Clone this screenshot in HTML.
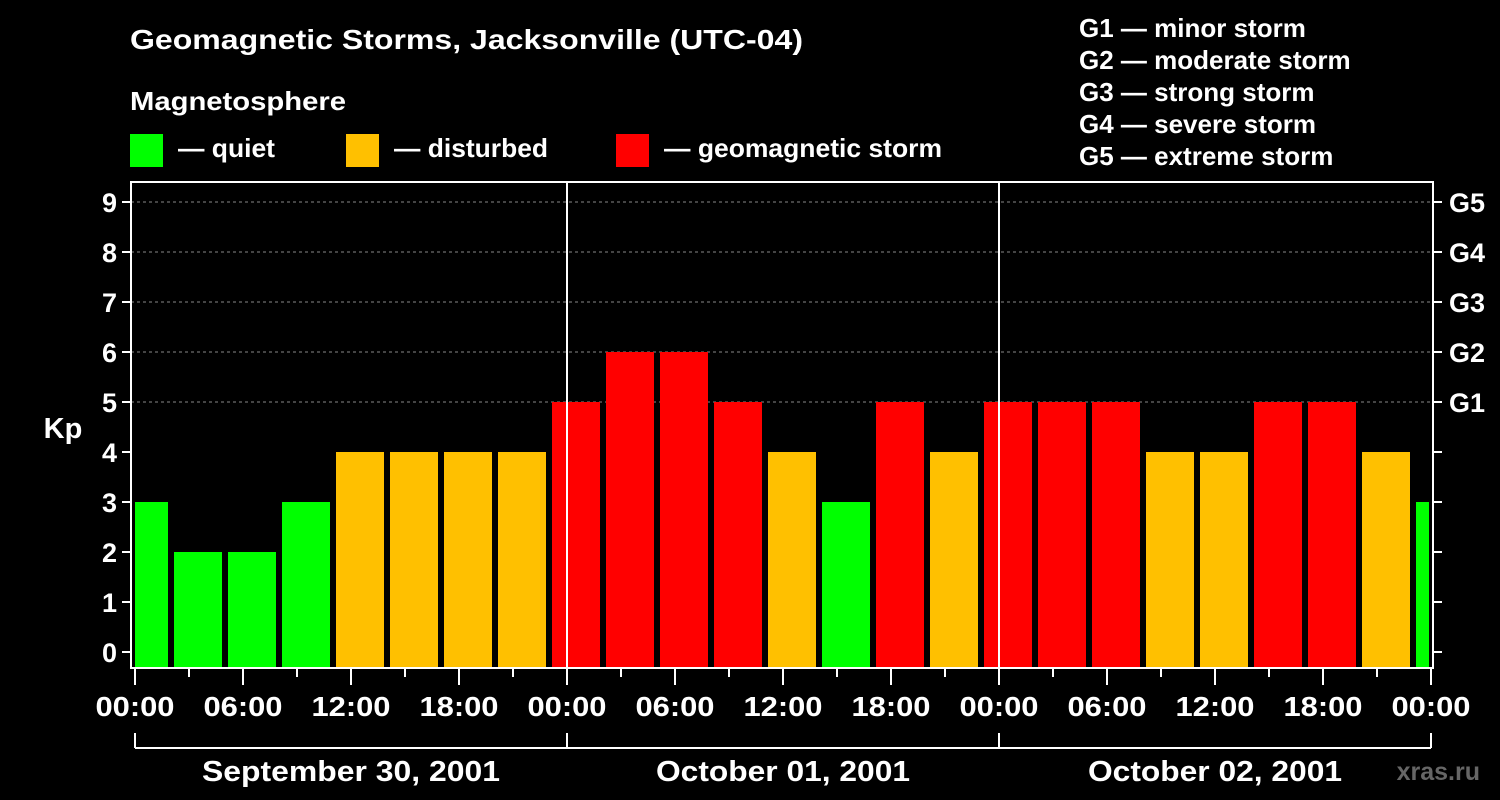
<!DOCTYPE html>
<html><head><meta charset="utf-8"><style>
body{margin:0;background:#000;width:1500px;height:800px;overflow:hidden}
svg{display:block;font-family:"Liberation Sans",Arial,sans-serif;font-weight:bold}
</style></head><body>
<svg id="c" width="1500" height="800" viewBox="0 0 1500 800">
<text x="130" y="49" fill="#fff" font-size="28" textLength="673" lengthAdjust="spacingAndGlyphs">Geomagnetic Storms, Jacksonville (UTC-04)</text>
<text x="130" y="110" fill="#fff" font-size="26" textLength="216" lengthAdjust="spacingAndGlyphs">Magnetosphere</text>
<rect x="130" y="134" width="33" height="33" fill="#00ff00"/>
<text x="178" y="157" fill="#fff" font-size="26" textLength="97" lengthAdjust="spacingAndGlyphs">— quiet</text>
<rect x="346" y="134" width="33" height="33" fill="#ffc000"/>
<text x="394" y="157" fill="#fff" font-size="26" textLength="154" lengthAdjust="spacingAndGlyphs">— disturbed</text>
<rect x="616" y="134" width="33" height="33" fill="#ff0000"/>
<text x="664" y="157" fill="#fff" font-size="26" textLength="278" lengthAdjust="spacingAndGlyphs">— geomagnetic storm</text>
<g fill="#fff" font-size="26">
<text x="1079" y="37">G1 — minor storm</text>
<text x="1079" y="69">G2 — moderate storm</text>
<text x="1079" y="101">G3 — strong storm</text>
<text x="1079" y="133">G4 — severe storm</text>
<text x="1079" y="165">G5 — extreme storm</text>
</g>
<text x="63" y="438" fill="#fff" font-size="29" text-anchor="middle">Kp</text>
<text x="1480" y="780" fill="#666" font-size="25" text-anchor="end">xras.ru</text>
<g id="plot"></g>
</svg>
<script>
const kpValues=[3,2,2,3,4,4,4,4,5,6,6,5,4,3,5,4,5,5,5,4,4,5,5,4,3];
const yTicks=[0,1,2,3,4,5,6,7,8,9];
const gLabels=["G1","G2","G3","G4","G5"];
const xTickLabels=["00:00","06:00","12:00","18:00","00:00","06:00","12:00","18:00","00:00","06:00","12:00","18:00","00:00"];
const dateLabels=["September 30, 2001","October 01, 2001","October 02, 2001"];
const L=131,R=1433,T=182,B=668,X0=135,DAY=432;
const y=v=>652-v*50;
const x=h=>X0+h*DAY/24;
const g=document.getElementById('plot');
const NS="http://www.w3.org/2000/svg";
function mk(t,a){const e=document.createElementNS(NS,t);for(const k in a)e.setAttribute(k,a[k]);g.appendChild(e);return e;}
for(let v=5;v<=9;v++){const e=mk('line',{x1:L,x2:R,y1:y(v),y2:y(v),stroke:'#888','stroke-dasharray':'3,3'});

}
kpValues.forEach((v,i)=>{
 let x1=x(-1+3*i)+3,x2=x1+48;x1=Math.max(x1,L+4);x2=Math.min(x2,R-4);
 const c=v>=5?'#ff0000':v>=4?'#ffc000':'#00ff00';
 const e=mk('rect',{x:x1,y:y(v),width:x2-x1,height:B-y(v),fill:c});
 
 
});
[1,2].forEach(d=>{const e=mk('line',{x1:x(24*d),x2:x(24*d),y1:T,y2:B,stroke:'#fff','stroke-width':2});

});
const f=mk('rect',{x:L,y:T,width:R-L,height:B-T,fill:'none',stroke:'#fff','stroke-width':2});


yTicks.forEach(v=>{
 mk('line',{x1:L-9,x2:L,y1:y(v),y2:y(v),stroke:'#fff','stroke-width':2});
 mk('line',{x1:R,x2:R+9,y1:y(v),y2:y(v),stroke:'#fff','stroke-width':2});
 const t=mk('text',{x:117,y:y(v)+10,fill:'#fff','font-size':27,'text-anchor':'end'});t.textContent=v;
 
 
});
gLabels.forEach((s,i)=>{const t=mk('text',{x:1449,y:y(5+i)+10,fill:'#fff','font-size':27});t.textContent=s;
 
 });
for(let h=0;h<=72;h+=3){mk('line',{x1:x(h),x2:x(h),y1:B,y2:B+(h%6?9:17),stroke:'#fff','stroke-width':2});}
xTickLabels.forEach((s,i)=>{const t=mk('text',{x:x(6*i)-39.5,y:716,fill:'#fff','font-size':28,textLength:79,lengthAdjust:'spacingAndGlyphs'});t.textContent=s;
 
 });
mk('line',{x1:x(0),x2:x(72),y1:748,y2:748,stroke:'#fff','stroke-width':2});
for(let d=0;d<=3;d++)mk('line',{x1:x(24*d),x2:x(24*d),y1:733,y2:748,stroke:'#fff','stroke-width':2});
const dateW=[298,254,254];
dateLabels.forEach((s,i)=>{const t=mk('text',{x:x(24*i+12)-dateW[i]/2,y:781,fill:'#fff','font-size':29,textLength:dateW[i],lengthAdjust:'spacingAndGlyphs'});t.textContent=s;
 
 });
</script>
</body></html>
